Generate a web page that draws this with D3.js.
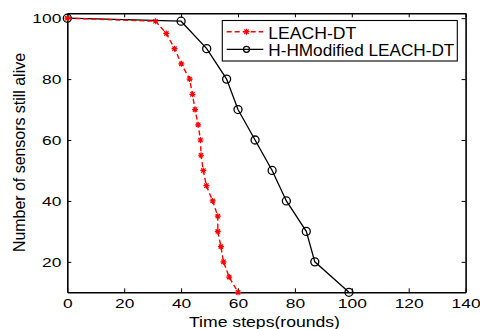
<!DOCTYPE html>
<html>
<head>
<meta charset="utf-8">
<script src="https://cdn.jsdelivr.net/npm/d3@7"></script>
<style>
html,body{margin:0;padding:0;background:#fff;}
svg{display:block;font-family:"Liberation Sans",Arial,sans-serif;}
</style>
</head>
<body>
<svg id="chart" width="480" height="329"></svg>
<script>
// ---- data ----
const seriesNames = ["LEACH-DT", "H-HModified LEACH-DT"];
const leachX = [0, 31, 34.8, 37.7, 40.1, 43, 44, 44.9, 46, 46.8, 47, 47.8, 48.9, 51.1, 52.9, 52.9, 54, 54.9, 56.9, 60];
const leachY = [100, 99, 95, 90, 85, 80, 75, 70, 65, 60, 55, 50, 45, 40, 35, 30, 25, 20, 15, 10];
const hhX = [0, 40, 49, 56, 60, 66, 72, 77, 84, 87, 99];
const hhY = [100, 99, 90, 80, 70, 60, 50, 40, 30, 20, 10];
const xTicks = [0, 20, 40, 60, 80, 100, 120, 140];
const yTicks = [20, 40, 60, 80, 100];
const xLabel = "Time steps(rounds)";
const yLabel = "Number of sensors still alive";

// ---- layout ----
const L = 67.3, R = 465.6, T = 13.3, B = 292.3;
const svg = d3.select("#chart");
const x = d3.scaleLinear().domain([0, 140]).range([L, R]);
const y = d3.scaleLinear().domain([10, 101.6]).range([B, T]);

const digitW = 9.67;
function stretchTicks(g){
  g.selectAll("text").each(function(){
    const t = d3.select(this);
    t.attr("textLength", t.text().length * digitW).attr("lengthAdjust", "spacingAndGlyphs");
  });
}

// white plot background
svg.append("rect").attr("x", L).attr("y", T).attr("width", R - L).attr("height", B - T).attr("fill", "#fff");

// axes
const gx = svg.append("g").attr("transform", `translate(0,${B})`)
  .call(d3.axisBottom(x).tickValues(xTicks).tickSizeInner(-4).tickSizeOuter(0).tickPadding(6.5));
const gy = svg.append("g").attr("transform", `translate(${L},0)`)
  .call(d3.axisLeft(y).tickValues(yTicks).tickSizeInner(-4).tickSizeOuter(0).tickPadding(6));
const gxt = svg.append("g").attr("transform", `translate(0,${T})`)
  .call(d3.axisTop(x).tickValues(xTicks).tickSizeInner(-4).tickSizeOuter(0).tickFormat(""));
const gyr = svg.append("g").attr("transform", `translate(${R},0)`)
  .call(d3.axisRight(y).tickValues(yTicks).tickSizeInner(-4).tickSizeOuter(0).tickFormat(""));
[gx, gy, gxt, gyr].forEach(g => {
  g.select(".domain").attr("stroke", "#000").attr("stroke-width", 1.6);
  g.selectAll(".tick line").attr("stroke", "#000").attr("stroke-width", 1);
  g.selectAll("text").attr("font-size", 13).attr("fill", "#000").attr("font-family", "Liberation Sans, Arial, sans-serif");
});
stretchTicks(gx); stretchTicks(gy);

// axis titles
svg.append("text").attr("x", 264.5).attr("y", 327).attr("text-anchor", "middle")
  .attr("font-size", 14.5).attr("textLength", 151).attr("lengthAdjust", "spacingAndGlyphs")
  .text(xLabel);
svg.append("text").attr("transform", "translate(25,152.5) rotate(-90)").attr("text-anchor", "middle")
  .attr("font-size", 16.5).attr("textLength", 199).attr("lengthAdjust", "spacingAndGlyphs")
  .text(yLabel);

// lines
const leach = leachX.map((v, i) => [v, leachY[i]]);
const hh = hhX.map((v, i) => [v, hhY[i]]);
const line = d3.line().x(d => x(d[0])).y(d => y(d[1]));

function asterisk(cx, cy, r){
  const d = r * 0.72;
  return `M${cx - r},${cy}L${cx + r},${cy}M${cx},${cy - r}L${cx},${cy + r}` +
         `M${cx - d},${cy - d}L${cx + d},${cy + d}M${cx - d},${cy + d}L${cx + d},${cy - d}`;
}

svg.append("path").datum(hh).attr("d", line).attr("fill", "none").attr("stroke", "#000").attr("stroke-width", 1.3);
svg.append("g").selectAll("circle").data(hh).join("circle")
  .attr("cx", d => x(d[0])).attr("cy", d => y(d[1])).attr("r", 4)
  .attr("fill", "none").attr("stroke", "#000").attr("stroke-width", 1.3);

svg.append("path").datum(leach).attr("d", line).attr("fill", "none").attr("stroke", "#ff0000")
  .attr("stroke-width", 1.4).attr("stroke-dasharray", "5,3");
svg.append("g").selectAll("path").data(leach).join("path")
  .attr("d", d => asterisk(x(d[0]), y(d[1]), 3))
  .attr("fill", "none").attr("stroke", "#ff0000").attr("stroke-width", 1.2);

// legend
const lg = svg.append("g");
lg.append("rect").attr("x", 222.3).attr("y", 20.5).attr("width", 235).attr("height", 40.5)
  .attr("fill", "#fff").attr("stroke", "#000").attr("stroke-width", 1.1);
const lx0 = 226.7, lx1 = 263.3, lxm = 246.5;
lg.append("line").attr("x1", lx0).attr("x2", lx1).attr("y1", 31.7).attr("y2", 31.7)
  .attr("stroke", "#ff0000").attr("stroke-width", 1.4).attr("stroke-dasharray", "5,3");
lg.append("path").attr("d", asterisk(lxm, 31.7, 3)).attr("fill", "none").attr("stroke", "#ff0000").attr("stroke-width", 1.2);
lg.append("line").attr("x1", lx0).attr("x2", lx1).attr("y1", 49.3).attr("y2", 49.3)
  .attr("stroke", "#000").attr("stroke-width", 1.3);
lg.append("circle").attr("cx", lxm).attr("cy", 49.3).attr("r", 3).attr("fill", "none").attr("stroke", "#000").attr("stroke-width", 1.3);
lg.append("text").attr("x", 268.3).attr("y", 39.2).attr("font-size", 15.8)
  .attr("textLength", 88).attr("lengthAdjust", "spacingAndGlyphs").text(seriesNames[0]);
lg.append("text").attr("x", 268.3).attr("y", 55.7).attr("font-size", 15.8)
  .attr("textLength", 186).attr("lengthAdjust", "spacingAndGlyphs").text(seriesNames[1]);
</script>
</body>
</html>
